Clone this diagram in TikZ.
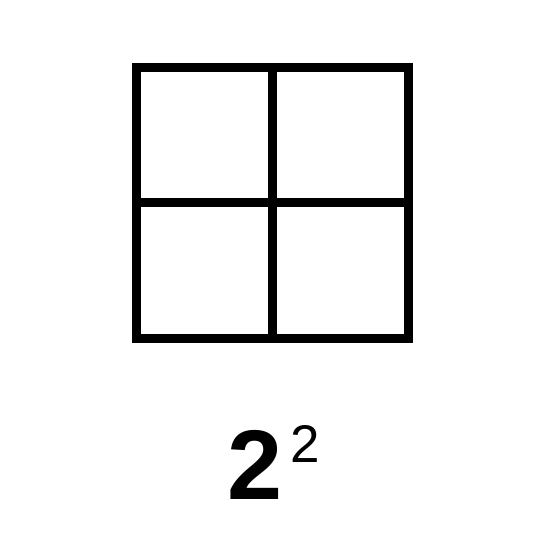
\documentclass[tikz,border=0pt]{standalone}
\usepackage{fontspec}
\setmainfont{Liberation Sans}
\usetikzlibrary{positioning}

\begin{document}
\begin{tikzpicture}[
		x=1pt, y=1pt,
		% --- ESTILOS ---
		grid_line/.style={
			draw=black,
			line width=9pt,
			line join=miter
		},
		base_num/.style={
			inner sep=0pt,
			anchor=base west,
			font=\fontsize{99}{99}\selectfont\bfseries
		},
		expo_num/.style={
			inner sep=0pt,
			anchor=base west,
			font=\fontsize{53}{53}\selectfont
		}
		]
		\useasboundingbox (0,0) rectangle (542,542);
		
		% --- CUADRO 2x2 ---
		\coordinate (sw) at (136.5,203.5);
		\coordinate (ne) at (408.5,474);
		\coordinate (mid) at (272,339.5);
		\draw [grid_line] (sw) rectangle (ne);
		\draw [grid_line] (sw -| mid) -- (ne -| mid);
		\draw [grid_line] (sw |- mid) -- (ne |- mid);
		
		% --- ETIQUETA ---
		\node (base) [base_num] at (227,42) {2};
		\node (expo) [expo_num] at (290,79) {2};
		
	\end{tikzpicture}
\end{document}
